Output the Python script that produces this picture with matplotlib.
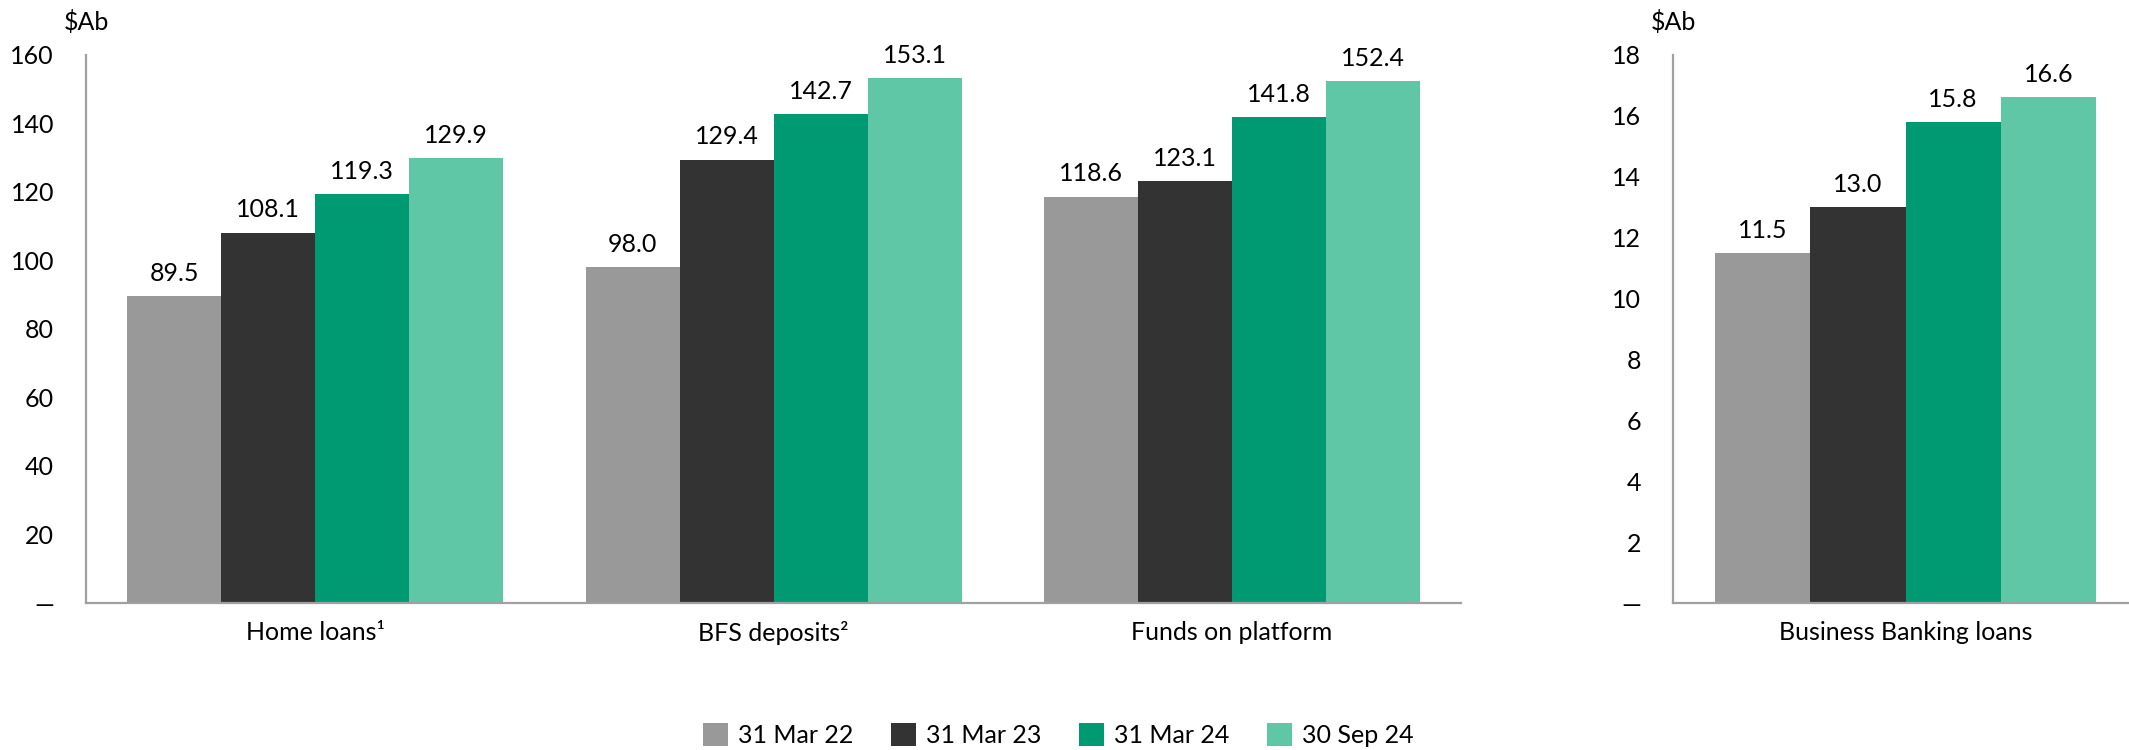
import matplotlib
matplotlib.use("Agg")
import matplotlib.pyplot as plt
from matplotlib.patches import Patch
import numpy as np

plt.rcParams['font.family'] = ['Lato', 'DejaVu Sans']

# data
periods = ["31 Mar 22", "31 Mar 23", "31 Mar 24", "30 Sep 24"]
colors = ["#999999", "#333333", "#009A72", "#60C7A6"]

left_categories = ["Home loans\u00b9", "BFS deposits\u00b2", "Funds on platform"]
home_loans = [89.5, 108.1, 119.3, 129.9]
bfs_deposits = [98.0, 129.4, 142.7, 153.1]
funds_on_platform = [118.6, 123.1, 141.8, 152.4]

right_categories = ["Business Banking loans"]
business_banking_loans = [11.5, 13.0, 15.8, 16.6]

left_ticks = [0, 20, 40, 60, 80, 100, 120, 140, 160]
right_ticks = [0, 2, 4, 6, 8, 10, 12, 14, 16, 18]

FS = 18
BAR_W = 0.205
AXIS_COLOR = "#A0A0A0"


def style_axes(ax, ticks):
    for side in ["top", "right"]:
        ax.spines[side].set_visible(False)
    for side in ["left", "bottom"]:
        ax.spines[side].set_color(AXIS_COLOR)
        ax.spines[side].set_linewidth(1.6)
    ax.set_yticks(ticks)
    ax.set_yticklabels(["\u2014"] + [str(t) for t in ticks[1:]])
    ax.set_ylim(ticks[0], ticks[-1])
    ax.tick_params(axis="y", length=0, pad=23, labelsize=FS)
    ax.tick_params(axis="x", length=0, pad=13, labelsize=FS)
    ax.text(0.0, 1.06, "$Ab", transform=ax.transAxes, fontsize=FS,
            ha="center", va="center")


def draw_bars(ax, series, categories):
    x = np.arange(len(categories))
    offsets = (np.arange(len(periods)) - 1.5) * BAR_W
    for i, period in enumerate(periods):
        vals = [s[i] for s in series]
        bars = ax.bar(x + offsets[i], vals, BAR_W, color=colors[i], label=period)
        for b, v in zip(bars, vals):
            ax.annotate(f"{v:.1f}", (b.get_x() + b.get_width() / 2, v),
                        xytext=(0, 8), textcoords="offset points",
                        ha="center", va="bottom", fontsize=FS)
    ax.set_xticks(x)
    ax.set_xticklabels(categories)


fig = plt.figure(figsize=(21.29, 7.5), dpi=100)

ax1 = fig.add_axes([0.0404, 0.196, 0.646, 0.731])
draw_bars(ax1, [home_loans, bfs_deposits, funds_on_platform], left_categories)
ax1.set_xlim(-0.5, 2.5)
style_axes(ax1, left_ticks)

ax2 = fig.add_axes([0.786, 0.196, 0.2137, 0.731])
draw_bars(ax2, [business_banking_loans], right_categories)
ax2.set_xlim(-0.5, 0.48)
style_axes(ax2, right_ticks)

handles = [Patch(facecolor=c, edgecolor="none") for c in colors]
fig.legend(handles, periods, loc="center", bbox_to_anchor=(0.497, 0.02),
           ncol=4, frameon=False, fontsize=FS, handlelength=1.0,
           handleheight=1.0, handletextpad=0.4, columnspacing=1.5)

fig.savefig("out.png", dpi=100)
